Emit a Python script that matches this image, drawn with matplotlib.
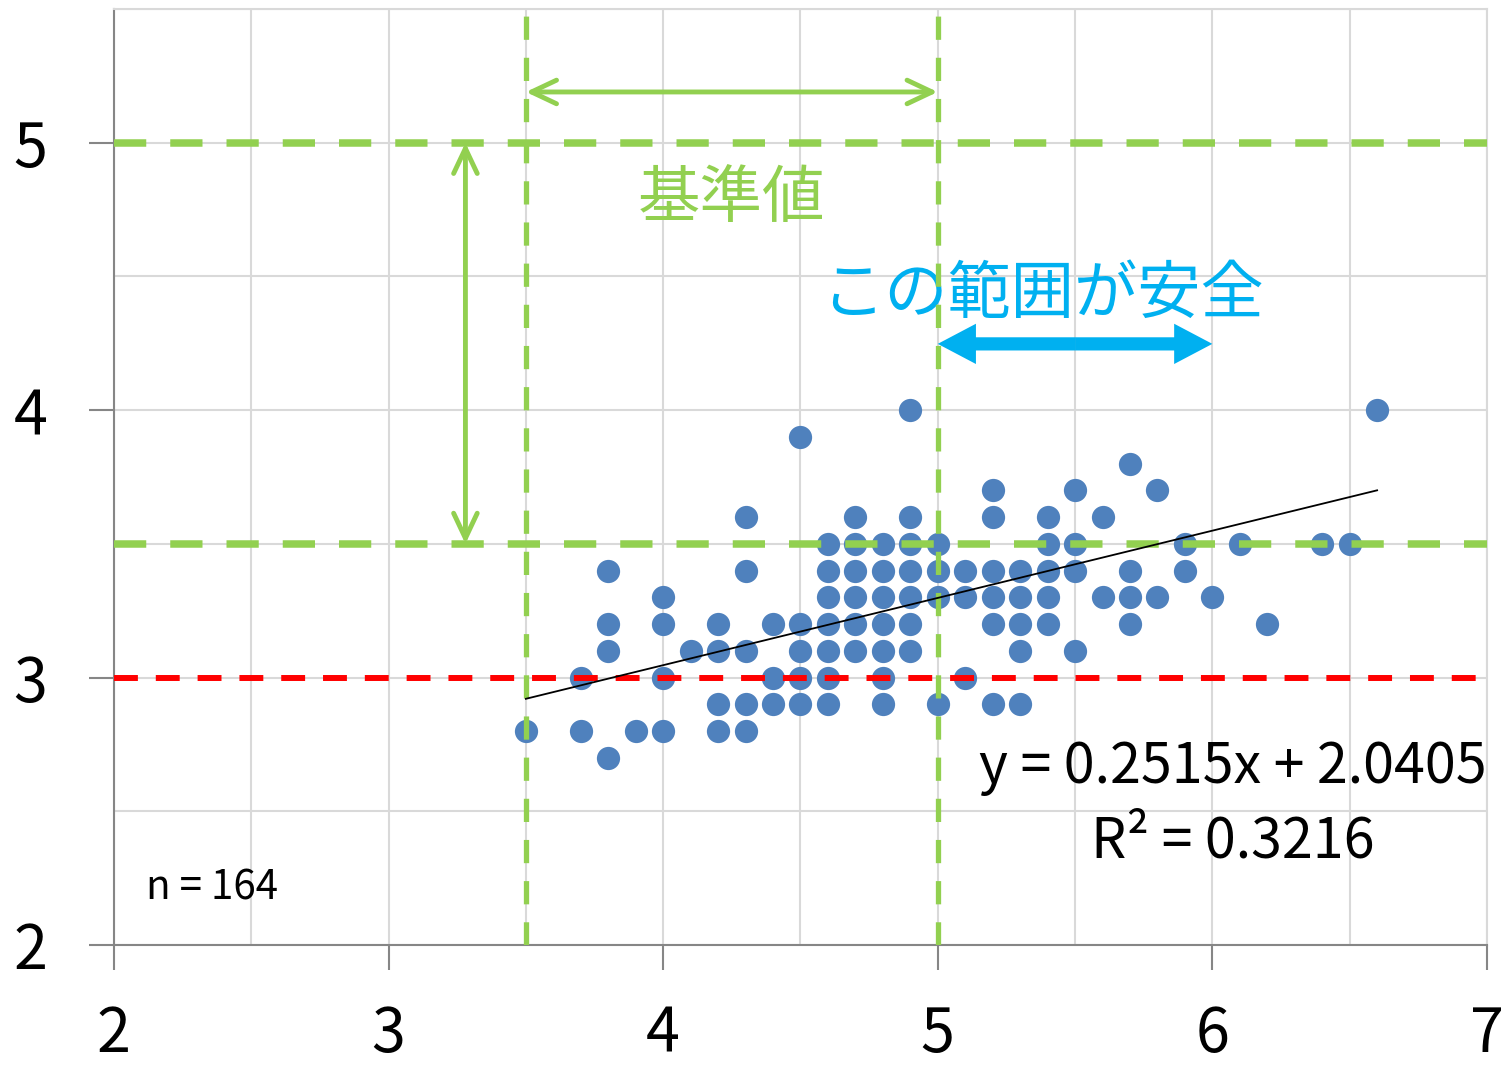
import matplotlib
matplotlib.use("Agg")
import matplotlib.pyplot as plt
import numpy as np

plt.rcParams['font.family'] = ['Noto Sans CJK JP', 'DejaVu Sans']

# visible data points, grouped by y row
x_vals = [4.9, 6.6,
          4.5,
          5.7,
          5.2, 5.5, 5.8,
          4.3, 4.7, 4.9, 5.2, 5.4, 5.6,
          4.6, 4.7, 4.8, 4.9, 5.0, 5.4, 5.5, 5.9, 6.1, 6.4, 6.5,
          3.8, 4.3, 4.6, 4.7, 4.8, 4.9, 5.0, 5.1, 5.2, 5.3, 5.4, 5.5, 5.7, 5.9,
          4.0, 4.6, 4.7, 4.8, 4.9, 5.0, 5.1, 5.2, 5.3, 5.4, 5.6, 5.7, 5.8, 6.0,
          3.8, 4.0, 4.2, 4.4, 4.5, 4.6, 4.7, 4.8, 4.9, 5.2, 5.3, 5.4, 5.7, 6.2,
          3.8, 4.1, 4.2, 4.3, 4.5, 4.6, 4.7, 4.8, 4.9, 5.3, 5.5,
          3.7, 4.0, 4.4, 4.5, 4.6, 4.8, 5.1,
          4.2, 4.3, 4.4, 4.5, 4.6, 4.8, 5.0, 5.2, 5.3,
          3.5, 3.7, 3.9, 4.0, 4.2, 4.3,
          3.8]
y_vals = [4.0] * 2 + [3.9] * 1 + [3.8] * 1 + [3.7] * 3 + [3.6] * 6 + [3.5] * 11 + \
         [3.4] * 14 + [3.3] * 14 + [3.2] * 14 + [3.1] * 11 + [3.0] * 7 + \
         [2.9] * 9 + [2.8] * 6 + [2.7] * 1

n_total = 164
slope = 0.2515
intercept = 2.0405
r2 = 0.3216

ref_x = [3.5, 5.0]      # green vertical lines
ref_y = [5.0, 3.5]      # green horizontal lines
red_y = 3.0
safe_range = [5.0, 6.0]

green = '#92D050'
blue = '#00B0F0'

fig = plt.figure(figsize=(15.07, 10.67), dpi=100)
ax = fig.add_axes([0.0756, 0.1143, 0.9111, 0.8772])

ax.scatter(x_vals, y_vals, s=280, color='#4F81BD', linewidths=0, zorder=3)

# trend line
tx = np.array([min(x_vals), max(x_vals)])
ax.plot(tx, slope * tx + intercept, color='black', lw=1.3, zorder=5)

for xv in ref_x:
    ax.axvline(xv, color=green, lw=3.8, dashes=(4.4, 3.4), zorder=4)
for yv in ref_y:
    ax.axhline(yv, color=green, lw=5.4, dashes=(4.3, 3.2), zorder=4)
ax.axhline(red_y, color='red', lw=4.3, dashes=(4.0, 3.0), zorder=4)

# green double arrows
arr = dict(arrowstyle='<->,head_length=1.8,head_width=0.85', color=green, lw=3.5,
           capstyle='round', shrinkA=0, shrinkB=0)
ax.annotate('', xy=(ref_x[0], 5.19), xytext=(ref_x[1], 5.19), arrowprops=arr)
ax.annotate('', xy=(3.28, ref_y[0]), xytext=(3.28, ref_y[1]), arrowprops=arr)

# blue arrow, built from two halves pointing outwards
mid = sum(safe_range) / 2
blue_arr = dict(arrowstyle='simple,head_length=2.75,head_width=2.9,tail_width=0.95',
                fc=blue, ec='none', shrinkA=0, shrinkB=0)
for end in safe_range:
    ax.annotate('', xy=(end, 4.248), xytext=(mid, 4.248), arrowprops=blue_arr)

ax.text(4.25, 4.788, '基準値', color=green, fontsize=45, ha='center', va='center')
ax.text(5.38, 4.43, 'この範囲が安全', color=blue, fontsize=45.5, ha='center', va='center')
ax.text(6.074, 2.663, f'y = {slope}x + {intercept}', fontsize=40, ha='center', va='center')
ax.text(6.074, 2.386, f'R² = {r2}', fontsize=40, ha='center', va='center')
ax.text(2.358, 2.214, f'n = {n_total}', fontsize=29, ha='center', va='center')

ax.set_xlim(2, 7)
ax.set_ylim(2, 5.5)
ax.set_xticks(np.arange(2, 8, 1))
ax.set_yticks(np.arange(2, 6, 1))
ax.set_xticks(np.arange(2, 7.01, 0.5), minor=True)
ax.set_yticks(np.arange(2, 5.51, 0.5), minor=True)
ax.grid(which='both', color='#D9D9D9', lw=1.5)
ax.set_axisbelow(True)
ax.tick_params(which='minor', length=0)
ax.tick_params(which='major', direction='out', length=18, width=1.5,
               color='#868686', labelsize=44, pad=30)
ax.tick_params(axis='x', pad=24)
for side in ['top', 'right']:
    ax.spines[side].set_color('#D9D9D9')
    ax.spines[side].set_linewidth(1.5)
for side in ['left', 'bottom']:
    ax.spines[side].set_color('#868686')
    ax.spines[side].set_linewidth(1.5)

fig.savefig('out.png', dpi=100)
